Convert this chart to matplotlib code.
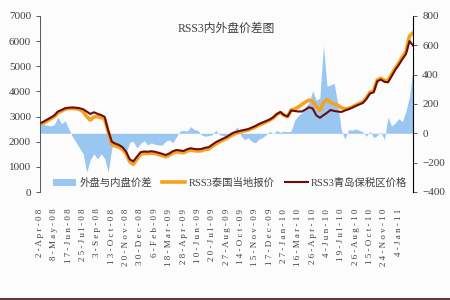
import matplotlib.pyplot as plt
from matplotlib.lines import Line2D

# tick labels (one every 4 points on the category axis)
tick_labels = ["2-Apr-08", "8-May-08", "17-Jun-08", "25-Jul-08", "3-Sep-08",
               "13-Oct-08", "20-Nov-08", "30-Dec-08", "6-Feb-09", "18-Mar-09",
               "28-Apr-09", "10-Jun-09", "20-Jul-09", "27-Aug-09", "14-Oct-09",
               "15-Nov-09", "17-Dec-09", "27-Jan-10", "16-Mar-10", "26-Apr-10",
               "4-Jun-10", "19-Jul-10", "26-Aug-10", "15-Oct-10", "24-Nov-10",
               "4-Jan-11"]

# RSS3 Qingdao bonded-zone price (left axis)
qingdao = [2730, 2800, 2880, 2960, 3050, 3200, 3260, 3330, 3350, 3360,
           3350, 3330, 3290, 3200, 3100, 3170, 3110, 3060, 2990, 2450,
           2000, 1920, 1870, 1780, 1600, 1300, 1220, 1400, 1580, 1610,
           1600, 1620, 1600, 1560, 1520, 1470, 1530, 1620, 1670, 1650,
           1630, 1700, 1740, 1710, 1700, 1710, 1760, 1780, 1880, 1980,
           2050, 2120, 2190, 2280, 2360, 2400, 2440, 2470, 2500, 2560,
           2620, 2700, 2760, 2820, 2880, 2970, 3100, 3180, 3060, 3000,
           3240, 3220, 3200, 3200, 3280, 3370, 3320, 3050, 2950, 3050,
           3150, 3260, 3220, 3200, 3180, 3240, 3290, 3350, 3420, 3480,
           3540, 3700, 3920, 3960, 4400, 4470, 4380, 4360, 4600, 4850,
           5050, 5280, 5480, 6000, 5820]

# RSS3 Thai local quote (left axis)
thai = [2680, 2740, 2830, 2920, 3000, 3150, 3220, 3290, 3320, 3320,
        3310, 3280, 3200, 3000, 2860, 2980, 3000, 2960, 2900, 2400,
        1900, 1830, 1780, 1700, 1520, 1200, 1100, 1300, 1500, 1540,
        1530, 1550, 1530, 1490, 1450, 1400, 1460, 1550, 1600, 1580,
        1560, 1630, 1670, 1640, 1630, 1640, 1690, 1710, 1810, 1910,
        1990, 2060, 2130, 2220, 2300, 2350, 2390, 2430, 2460, 2520,
        2580, 2660, 2720, 2780, 2850, 2940, 3080, 3160, 3050, 3000,
        3260, 3300, 3380, 3480, 3580, 3650, 3600, 3400, 3250, 3550,
        3680, 3560, 3500, 3450, 3350, 3300, 3320, 3380, 3450, 3520,
        3580, 3750, 3970, 4020, 4450, 4520, 4440, 4420, 4680, 4920,
        5130, 5370, 5580, 6200, 6330]

# outer minus inner spread (right axis)
spread = [55, 60, 55, 50, 60, 110, 65, 85, 30, -20,
          -60, -100, -140, -265, -180, -140, -175, -140, -170, -265,
          -100, -70, -95, -110, -135, -60, -55, -100, -70, -50,
          -80, -65, -75, -80, -80, -55, -45, -65, -25, 15,
          20, 15, 45, 25, 20, -10, -20, -15, -10, 20,
          -10, -15, -20, 10, 15, 45, -15, -45, -30, -55,
          -65, -40, -30, -10, 15, -5, 20, 5, 15, 10,
          15, 90, 120, 140, 180, 210, 290, 225, 240, 600,
          320, 330, 340, 200, 20, -40, 25, 20, 30, 20,
          10, -20, 15, -30, -15, 10, -45, 110, 50, 70,
          100, 80, 150, 250, 450]

x = list(range(len(qingdao)))
step = 4

serif = ["Liberation Serif", "Noto Sans CJK SC"]
grey = "#404040"

fig = plt.figure(figsize=(4.5, 3), dpi=100, facecolor="#fcfcfc")
ax = fig.add_axes([0.089, 0.36, 0.829, 0.587])
ax2 = ax.twinx()

# area on the right axis, kept behind the price lines
area = ax2.fill_between(x, 0, spread, color="#99c7f2", linewidth=0,
                        label="外盘与内盘价差")
ax2.set_zorder(ax.get_zorder() - 1)
ax.patch.set_visible(False)
ax2.patch.set_facecolor("#fcfcfc")

l1, = ax.plot(x, thai, color="#f5a21f", lw=2.6, label="RSS3泰国当地报价")
l2, = ax.plot(x, qingdao, color="#6e0c0c", lw=1.5, label="RSS3青岛保税区价格")

ax.set_xlim(0, len(x) - 1)
ax.set_ylim(0, 7000)
ax.set_yticks(range(0, 7001, 1000))
ax2.set_ylim(-400, 800)
ax2.set_yticks(range(-400, 801, 200))

ax.set_xticks(x[::step][:len(tick_labels)])
ax.set_xticklabels([" ".join(t) for t in tick_labels], rotation=90,
                   family=serif, fontsize=6.5, color=grey, va="top")
ax.tick_params(axis="x", length=0, pad=12)

for a in (ax, ax2):
    for s in ("top", "bottom"):
        a.spines[s].set_visible(False)
    a.tick_params(axis="y", length=3, width=0.6, color=grey,
                  labelsize=8, labelcolor=grey)
    for lab in a.get_yticklabels():
        lab.set_family(serif)
ax.spines["left"].set_color(grey)
ax.spines["left"].set_linewidth(0.6)
ax2.spines["right"].set_color(grey)
ax2.spines["right"].set_linewidth(0.6)
ax2.spines["left"].set_visible(False)

ax.set_title("RSS3内外盘价差图", family=serif, fontsize=8.5, color=grey,
             y=0.86)

leg = ax.legend([area, l1, l2], [area.get_label(), l1.get_label(), l2.get_label()],
                loc="lower center", bbox_to_anchor=(0.51, -0.03), ncol=3,
                frameon=False, prop={"family": serif, "size": 7.5},
                handlelength=2.2, handletextpad=0.3, columnspacing=1.0)
for t in leg.get_texts():
    t.set_color(grey)

# dark line along the bottom edge of the picture
fig.add_artist(Line2D([0, 1], [0.004, 0.004], color="#4a1010", lw=1.2))

fig.savefig("out.png", dpi=100, facecolor=fig.get_facecolor())
